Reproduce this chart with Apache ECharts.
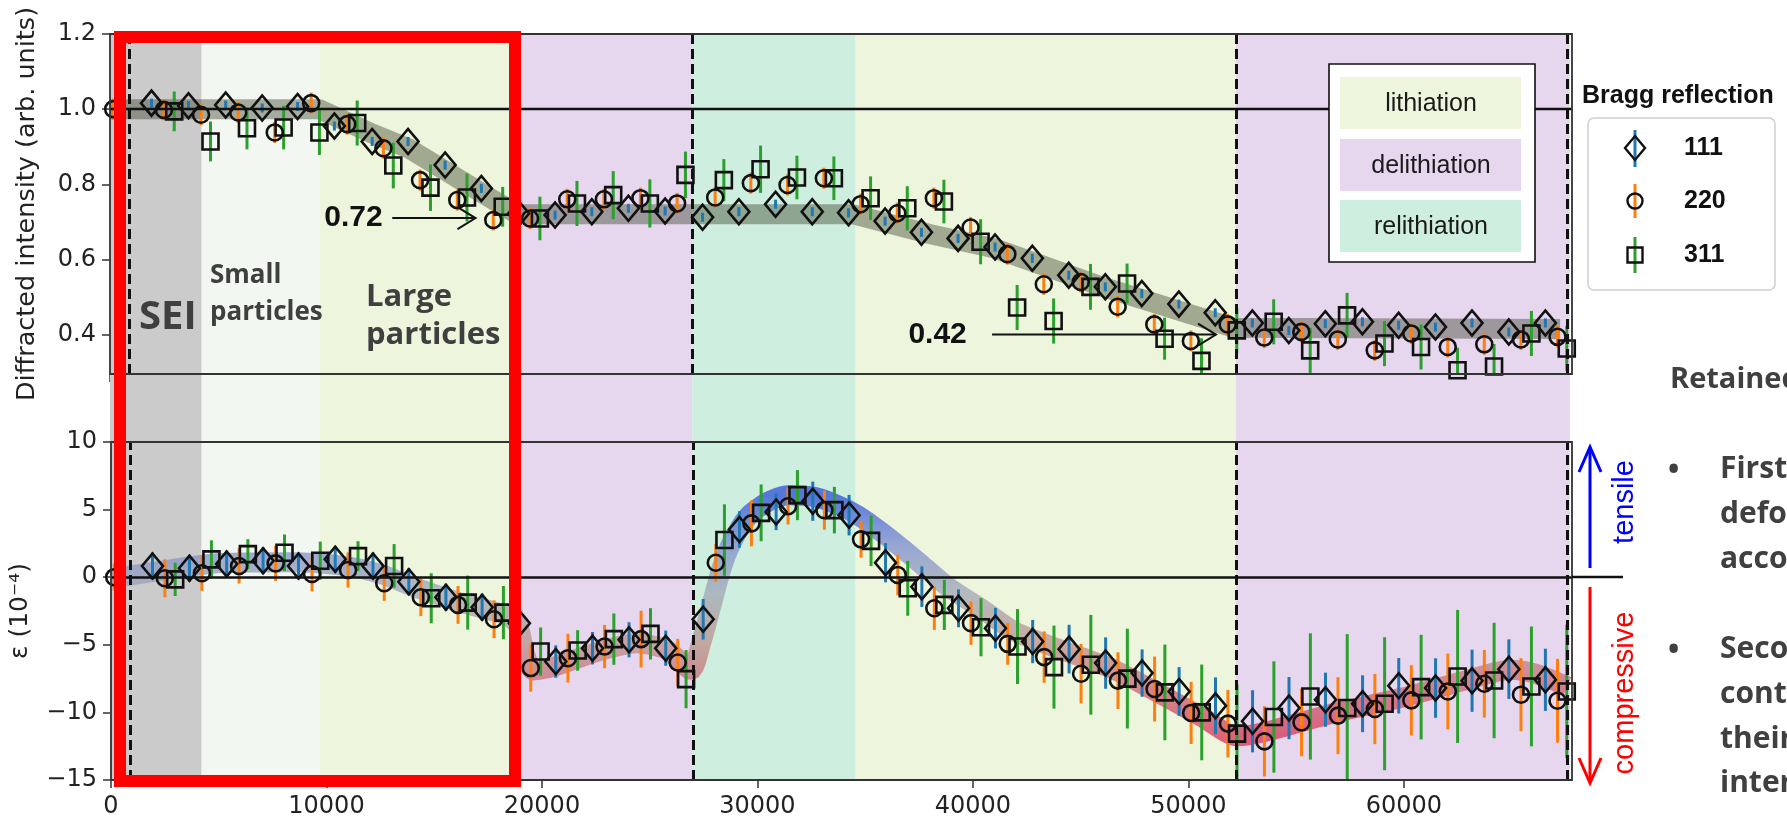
<!DOCTYPE html>
<html><head><meta charset="utf-8">
<script src="https://cdn.jsdelivr.net/npm/echarts@6/dist/echarts.min.js"></script>
<style>html,body{margin:0;padding:0;background:#fff;}#c{width:1787px;height:824px;}</style>
</head><body><div id="c"></div>
<script>
// ---------- axis ticks ----------
const xTicks = [0, 10000, 20000, 30000, 40000, 50000, 60000];
const topYTicks = [0.4, 0.6, 0.8, 1.0, 1.2];
const botYTicks = [-15, -10, -5, 0, 5, 10];

// ---------- Bragg reflection 111 (diamonds) ----------
const x111 = [1925, 3640, 5366, 7058, 8700, 10406, 12158, 13822, 15541, 17222, 18950, 20640, 22344, 24041, 25743, 27480, 29164, 30866, 32567, 34251, 35944, 37630, 39330, 41045, 42772, 44462, 46157, 47850, 49568, 51255, 52975, 54667, 56360, 58081, 59760, 61468, 63162, 64870, 66566];
const top111 = [1.016, 1.009, 1.011, 1.003, 1.007, 0.955, 0.914, 0.914, 0.851, 0.789, 0.722, 0.718, 0.727, 0.736, 0.729, 0.712, 0.727, 0.747, 0.727, 0.724, 0.702, 0.672, 0.656, 0.633, 0.603, 0.558, 0.527, 0.509, 0.481, 0.458, 0.431, 0.411, 0.429, 0.434, 0.425, 0.420, 0.431, 0.407, 0.431];
const bot111 = [0.83, 0.66, 0.97, 1.22, 0.83, 1.32, 0.83, -0.33, -1.48, -2.22, -3.40, -6.24, -5.25, -4.63, -5.25, -3.11, 3.53, 4.83, 5.62, 4.59, 1.07, -0.70, -2.30, -3.77, -4.76, -5.32, -6.35, -7.09, -8.45, -9.51, -10.66, -9.68, -9.06, -9.36, -8.03, -8.20, -7.66, -6.80, -7.59];
const botErr111 = [1.0, 1.0, 1.0, 1.0, 1.0, 1.0, 1.0, 1.0, 1.0, 1.0, 1.1, 1.2, 1.2, 1.3, 1.3, 1.5, 1.35, 1.35, 1.45, 1.5, 1.45, 1.5, 1.4, 1.5, 1.6, 1.8, 1.9, 1.75, 1.8, 2.1, 2.3, 2.3, 2.0, 2.1, 2.05, 2.2, 2.3, 2.2, 2.3];
const topErr111 = 0.012;

// ---------- Bragg reflection 220 (circles) ----------
const x220 = [150, 2500, 4220, 5945, 7640, 9330, 11000, 12680, 14380, 16105, 17775, 19480, 21205, 22905, 24600, 26300, 28065, 29720, 31420, 33106, 34808, 36510, 38208, 39910, 41613, 43305, 45018, 46730, 48430, 50125, 51832, 53527, 55248, 56940, 58652, 60345, 62038, 63732, 65432, 67128];
const top220 = [1.0, 0.998, 0.985, 0.991, 0.938, 1.016, 0.960, 0.896, 0.811, 0.758, 0.705, 0.709, 0.760, 0.760, 0.763, 0.749, 0.765, 0.803, 0.798, 0.816, 0.747, 0.723, 0.763, 0.685, 0.614, 0.534, 0.540, 0.474, 0.427, 0.383, 0.427, 0.392, 0.407, 0.387, 0.358, 0.403, 0.367, 0.374, 0.387, 0.394];
const bot220 = [0, -0.08, 0.29, 0.83, 1.02, 0.24, 0.53, -0.45, -1.48, -2.05, -3.11, -6.72, -5.99, -5.13, -4.58, -6.31, 1.07, 3.98, 5.25, 4.96, 2.80, 0.16, -2.30, -3.40, -4.93, -5.91, -7.14, -7.65, -8.27, -10.04, -10.83, -12.14, -10.74, -10.24, -9.75, -9.11, -8.45, -7.88, -8.69, -9.14];
const botErr220 = [1.0, 1.4, 1.3, 1.3, 1.3, 1.3, 1.3, 1.3, 1.4, 1.4, 1.4, 1.75, 1.8, 1.6, 2.1, 1.75, 1.4, 1.7, 1.35, 1.45, 1.35, 1.5, 1.6, 1.6, 1.55, 1.9, 2.2, 2.1, 2.4, 2.3, 2.5, 2.6, 2.5, 2.85, 2.6, 2.6, 2.8, 2.5, 2.7, 3.1];
const topErr220 = 0.028;

// ---------- Bragg reflection 311 (squares) ----------
const x311 = [2978, 4661, 6352, 8052, 9712, 11463, 13138, 14862, 16554, 18211, 19937, 21655, 23336, 25036, 26687, 28468, 30170, 31856, 33570, 35272, 36974, 38672, 40374, 42068, 43760, 45471, 47166, 48906, 50617, 52254, 53966, 55659, 57369, 59104, 60799, 62492, 64185, 65918, 67557];
const top311 = [0.994, 0.914, 0.949, 0.951, 0.938, 0.963, 0.850, 0.791, 0.765, 0.740, 0.709, 0.749, 0.771, 0.749, 0.825, 0.811, 0.840, 0.818, 0.816, 0.763, 0.736, 0.754, 0.647, 0.472, 0.436, 0.527, 0.536, 0.389, 0.330, 0.411, 0.434, 0.358, 0.451, 0.376, 0.367, 0.305, 0.315, 0.403, 0.363];
const bot311 = [-0.16, 1.32, 1.71, 1.81, 1.22, 1.56, 0.83, -1.56, -1.88, -2.62, -5.50, -5.42, -4.58, -4.19, -7.54, 2.75, 4.76, 6.07, 4.96, 2.69, -0.82, -2.05, -3.70, -5.13, -6.65, -6.48, -7.50, -8.52, -10.0, -11.57, -10.34, -8.82, -9.68, -9.36, -8.13, -7.34, -7.64, -8.08, -8.45];
const botErr311 = [1.23, 1.41, 1.1, 1.35, 1.41, 1.1, 1.62, 1.85, 2.0, 1.97, 1.78, 1.5, 1.9, 1.9, 2.15, 2.64, 2.1, 1.85, 1.72, 1.87, 2.03, 1.85, 2.15, 2.77, 3.07, 3.69, 3.69, 3.54, 3.54, 3.63, 4.12, 4.67, 5.47, 4.92, 3.87, 4.92, 4.27, 4.43, 4.94];
const topErr311 = [0.053, 0.053, 0.056, 0.058, 0.06, 0.06, 0.061, 0.062, 0.064, 0.053, 0.058, 0.06, 0.064, 0.064, 0.062, 0.056, 0.063, 0.058, 0.058, 0.058, 0.059, 0.058, 0.06, 0.06, 0.06, 0.061, 0.053, 0.056, 0.06, 0.06, 0.06, 0.06, 0.06, 0.06, 0.06, 0.06, 0.06, 0.06, 0.06];

// ---------- trend bands ----------
const topTrendX = [0, 9700, 12160, 13860, 17260, 18900, 34470, 38050, 41045, 46040, 52100, 67250];
const topTrendY = [1.0, 1.0, 0.935, 0.895, 0.776, 0.72, 0.72, 0.667, 0.629, 0.527, 0.418, 0.415];
const botTrendX = [0, 2000, 4690, 8280, 10960, 12650, 14000, 16330, 18300, 18900, 19200, 19600, 20600, 22590, 24370, 25800, 26920, 27380, 27850, 28310, 28780, 29550, 30480, 31405, 32640, 33730, 34650, 35735, 37280, 38830, 40370, 41920, 43470, 45010, 46560, 49030, 50580, 52280, 53670, 56760, 59850, 62950, 64950, 66020, 67580];
const botTrendY = [-0.1, 0.4, 1.0, 1.1, 0.8, 0.16, -0.7, -1.93, -2.79, -3.6, -5.6, -6.9, -6.6, -5.5, -4.88, -5.37, -6.85, -4.88, -2.18, 0.53, 2.5, 4.47, 5.57, 6.07, 5.94, 5.33, 4.59, 3.36, 1.39, -0.7, -2.3, -4.0, -5.0, -5.9, -6.85, -8.94, -10.3, -11.77, -11.4, -10.04, -8.94, -7.59, -6.85, -7.1, -8.08];

// ---------- phases ----------
const phaseNames = ['SEI', 'small particles', 'large particles (lithiation)', 'delithiation', 'relithiation', 'lithiation', 'delithiation'];
const phaseStart = [0, 4250, 9710, 19000, 27000, 34580, 52220];
const phaseEnd = [4250, 9710, 19000, 27000, 34580, 52220, 67700];
const phaseBoundaries = [900, 27000, 52220, 67600];

// ---------- annotations ----------
const arrowLabels = ['0.72', '0.42'];
const arrowFrom = [[13090, 0.71], [40905, 0.40]];
const arrowTo = [[16950, 0.71], [51290, 0.40]];
const arrowLabelAt = [[11290, 0.71], [38380, 0.40]];

// ---------- styles ----------
const phaseColors = ['#cbcbcb', '#f3f7f1', '#eef5dd', '#e6d7ef', '#ceeedf', '#eef5dd', '#e6d7ef'];
const C111 = '#1f77b4', C220 = '#ff7f0e', C311 = '#2ca02c';
const X_MAX = 67800;
const TICK = '#333';
const numFont = 'DejaVu Sans';

function zip(xs, ys, es) {
  return xs.map((x, i) => es === undefined ? [x, ys[i]] : [x, ys[i], Array.isArray(es) ? es[i] : es]);
}

function errRender(params, api) {
  const x = api.value(0), y = api.value(1), e = api.value(2);
  const p1 = api.coord([x, y - e]), p2 = api.coord([x, y + e]);
  return { type: 'line', shape: { x1: p1[0], y1: p1[1], x2: p2[0], y2: p2[1] },
    style: { stroke: api.visual('color'), lineWidth: 3 } };
}

function arrowRender(params, api) {
  const a = api.coord([api.value(0), api.value(1)]);
  const b = api.coord([api.value(2), api.value(3)]);
  const t = api.coord([api.value(4), api.value(5)]);
  const hl = 18, hw = 11;
  return { type: 'group', children: [
    { type: 'line', shape: { x1: a[0], y1: a[1], x2: b[0], y2: b[1] }, style: { stroke: '#111', lineWidth: 2 } },
    { type: 'polyline', shape: { points: [[b[0] - hl, b[1] - hw], [b[0], b[1]], [b[0] - hl, b[1] + hw]] }, style: { stroke: '#111', lineWidth: 2, fill: null } },
    { type: 'text', style: { text: arrowLabels[params.dataIndex], x: t[0], y: t[1], fill: '#111',
      fontSize: 30, fontWeight: 'bold', fontFamily: 'Liberation Sans', align: 'center', verticalAlign: 'middle' } }
  ] };
}

function errSeries(xi, yi, data, color) {
  return { type: 'custom', xAxisIndex: xi, yAxisIndex: yi, data: data, renderItem: errRender,
    itemStyle: { color: color }, clip: true, silent: true, z: 4 };
}
function markSeries(xi, yi, data, symbol, size) {
  return { type: 'scatter', xAxisIndex: xi, yAxisIndex: yi, data: data, symbol: symbol, symbolSize: size,
    itemStyle: { color: 'rgba(0,0,0,0)', borderColor: '#111', borderWidth: 2.6, opacity: 1 },
    emphasis: { disabled: true }, silent: true, clip: true, z: 5 };
}

const vlines = phaseBoundaries.map(v => ({ xAxis: v }));
const dashStyle = { color: '#111', width: 3, type: [10, 5] };

const axisX = (gi, showLabel) => ({
  gridIndex: gi, type: 'value', min: 0, max: X_MAX,
  axisLine: { show: false, onZero: false },
  axisTick: { show: true, customValues: xTicks, length: 8, lineStyle: { color: TICK, width: 1.5 } },
  axisLabel: { show: showLabel, customValues: xTicks, formatter: v => String(v), fontSize: 24, fontFamily: numFont, color: '#222', margin: 15 },
  splitLine: { show: false }
});

const option = {
  animation: false,
  backgroundColor: '#fff',
  grid: [
    { left: 110, right: 215, top: 34, bottom: 44 },
    { left: 110, right: 215, top: 34, height: 340, show: true, borderColor: '#333', borderWidth: 1.8, backgroundColor: 'transparent', z: 10 },
    { left: 110, right: 215, top: 442, height: 338, show: true, borderColor: '#333', borderWidth: 1.8, backgroundColor: 'transparent', z: 10 }
  ],
  xAxis: [
    { gridIndex: 0, type: 'value', min: 0, max: X_MAX, show: false },
    axisX(1, false),
    axisX(2, true)
  ],
  yAxis: [
    { gridIndex: 0, type: 'value', min: 0, max: 1, show: false },
    { gridIndex: 1, type: 'value', min: 0.295, max: 1.2,
      axisLine: { show: false, onZero: false },
      axisTick: { show: true, customValues: topYTicks, length: 8, lineStyle: { color: TICK, width: 1.5 } },
      axisLabel: { customValues: topYTicks, formatter: v => Number(v).toFixed(1), fontSize: 24, fontFamily: numFont, color: '#222', margin: 14 },
      splitLine: { show: false },
      name: 'Diffracted intensity (arb. units)', nameLocation: 'middle', nameGap: 70,
      nameTextStyle: { fontSize: 25.5, fontFamily: numFont, color: '#222' } },
    { gridIndex: 2, type: 'value', min: -15, max: 10, interval: 5,
      axisLine: { show: false, onZero: false },
      axisTick: { show: true, customValues: botYTicks, length: 8, lineStyle: { color: TICK, width: 1.5 } },
      axisLabel: { customValues: botYTicks, formatter: v => String(v).replace('-', '\u2212'), fontSize: 24, fontFamily: numFont, color: '#222', margin: 14 },
      splitLine: { show: false },
      name: '\u03b5 (10\u207b\u2074)', nameLocation: 'middle', nameGap: 78,
      nameTextStyle: { fontSize: 25, fontFamily: numFont, color: '#222' } }
  ],
  visualMap: [{
    type: 'continuous', show: false, seriesIndex: 2, dimension: 1, min: -12, max: 6,
    inRange: { color: ['#d83a5c', '#cd6676', '#bd958f', '#a3a9b6', '#7d90d0', '#3456d8'] }
  }],
  series: [
    { type: 'line', xAxisIndex: 0, yAxisIndex: 0, data: [], silent: true, z: 1,
      markArea: { silent: true, data: phaseStart.map((s, i) => [
        { xAxis: s, name: phaseNames[i], itemStyle: { color: phaseColors[i], opacity: 1 } },
        { xAxis: phaseEnd[i] }]), label: { show: false } } },
    { type: 'line', xAxisIndex: 1, yAxisIndex: 1, data: zip(topTrendX, topTrendY), showSymbol: false, symbol: 'none',
      lineStyle: { color: 'rgba(55,65,40,0.42)', width: 20, join: 'round', cap: 'butt' }, silent: true, z: 2 },
    { type: 'line', xAxisIndex: 2, yAxisIndex: 2, data: zip(botTrendX, botTrendY), showSymbol: false, symbol: 'none', smooth: 0.25,
      lineStyle: { width: 20, opacity: 0.78, join: 'round' }, silent: true, z: 2 },
    { type: 'line', xAxisIndex: 1, yAxisIndex: 1, data: [], silent: true, z: 3,
      markLine: { silent: true, symbol: ['none', 'none'], label: { show: false },
        data: [{ yAxis: 1.0, lineStyle: { color: '#111', width: 2.4, type: 'solid' } }].concat(vlines.map(v => Object.assign({ lineStyle: dashStyle }, v))) } },
    { type: 'line', xAxisIndex: 2, yAxisIndex: 2, data: [], silent: true, z: 3,
      markLine: { silent: true, symbol: ['none', 'none'], label: { show: false },
        data: [{ yAxis: 0, lineStyle: { color: '#111', width: 2.6, type: 'solid' } }].concat(vlines.map(v => Object.assign({ lineStyle: dashStyle }, v))) } },
    errSeries(1, 1, zip(x111, top111, topErr111), C111),
    errSeries(1, 1, zip(x220, top220, topErr220), C220),
    errSeries(1, 1, zip(x311, top311, topErr311), C311),
    markSeries(1, 1, zip(x111, top111), 'diamond', [21, 25]),
    markSeries(1, 1, zip(x220, top220), 'circle', 16),
    markSeries(1, 1, zip(x311, top311), 'rect', 16),
    errSeries(2, 2, zip(x111, bot111, botErr111), C111),
    errSeries(2, 2, zip(x220, bot220, botErr220), C220),
    errSeries(2, 2, zip(x311, bot311, botErr311), C311),
    markSeries(2, 2, zip(x111, bot111), 'diamond', [21, 25]),
    markSeries(2, 2, zip(x220, bot220), 'circle', 16),
    markSeries(2, 2, zip(x311, bot311), 'rect', 16),
    { type: 'custom', xAxisIndex: 1, yAxisIndex: 1, silent: true, z: 6, clip: false,
      data: arrowFrom.map((f, i) => [f[0], f[1], arrowTo[i][0], arrowTo[i][1], arrowLabelAt[i][0], arrowLabelAt[i][1]]),
      renderItem: arrowRender }
  ],
  graphic: []
};

// ---------- overlay annotations ----------
const G = [];
const Z = 100;
G.push({ type: 'rect', z: Z, shape: { x: 1329, y: 64, width: 206, height: 198 }, style: { fill: '#fff', stroke: '#111', lineWidth: 1.6 } });
const legPhase = [['lithiation', 5, 77], ['delithiation', 3, 139], ['relithiation', 4, 200]];
legPhase.forEach(([t, ci, y]) => {
  G.push({ type: 'rect', z: Z + 1, shape: { x: 1340, y: y, width: 181, height: 52 }, style: { fill: phaseColors[ci] } });
  G.push({ type: 'text', z: Z + 2, style: { text: t, x: 1431, y: y + 27, align: 'center', verticalAlign: 'middle', fontSize: 25, fontFamily: 'Liberation Sans', fill: '#1a1a1a' } });
});
G.push({ type: 'text', z: Z, style: { text: 'Bragg reflection', x: 1582, y: 96, align: 'left', verticalAlign: 'middle', fontSize: 25, fontWeight: 'bold', fontFamily: 'Liberation Sans', fill: '#111' } });
G.push({ type: 'rect', z: Z, shape: { x: 1588, y: 118, width: 187, height: 172, r: 6 }, style: { fill: '#fff', stroke: '#cfcfcf', lineWidth: 1.5 } });
const lx = 1635;
G.push({ type: 'line', z: Z + 1, shape: { x1: lx, y1: 130, x2: lx, y2: 167 }, style: { stroke: C111, lineWidth: 3 } });
G.push({ type: 'polygon', z: Z + 2, shape: { points: [[lx, 136], [lx + 10, 148], [lx, 160], [lx - 10, 148]] }, style: { fill: null, stroke: '#111', lineWidth: 2.4 } });
G.push({ type: 'line', z: Z + 1, shape: { x1: lx, y1: 184, x2: lx, y2: 218 }, style: { stroke: C220, lineWidth: 3 } });
G.push({ type: 'circle', z: Z + 2, shape: { cx: lx, cy: 201, r: 7.5 }, style: { fill: null, stroke: '#111', lineWidth: 2.4 } });
G.push({ type: 'line', z: Z + 1, shape: { x1: lx, y1: 237, x2: lx, y2: 273 }, style: { stroke: C311, lineWidth: 3 } });
G.push({ type: 'rect', z: Z + 2, shape: { x: lx - 7.5, y: 247.5, width: 15, height: 15 }, style: { fill: null, stroke: '#111', lineWidth: 2.4 } });
[['111', 148], ['220', 201], ['311', 255]].forEach(([t, y]) => {
  G.push({ type: 'text', z: Z + 2, style: { text: t, x: 1684, y: y, align: 'left', verticalAlign: 'middle', fontSize: 25, fontWeight: 'bold', fontFamily: 'Liberation Sans', fill: '#111' } });
});
const regFont = 'Open Sans';
G.push({ type: 'text', z: Z, style: { text: 'SEI', x: 139, y: 318, align: 'left', verticalAlign: 'middle', fontSize: 40, fontWeight: 'bold', fontFamily: regFont, fill: '#3f3f3f' } });
G.push({ type: 'text', z: Z, style: { text: 'Small', x: 210, y: 276, align: 'left', verticalAlign: 'middle', fontSize: 26, fontWeight: 'bold', fontFamily: regFont, fill: '#3f3f3f' } });
G.push({ type: 'text', z: Z, style: { text: 'particles', x: 210, y: 313, align: 'left', verticalAlign: 'middle', fontSize: 26, fontWeight: 'bold', fontFamily: regFont, fill: '#3f3f3f' } });
G.push({ type: 'text', z: Z, style: { text: 'Large', x: 366, y: 297, align: 'left', verticalAlign: 'middle', fontSize: 31, fontWeight: 'bold', fontFamily: regFont, fill: '#3f3f3f' } });
G.push({ type: 'text', z: Z, style: { text: 'particles', x: 366, y: 335, align: 'left', verticalAlign: 'middle', fontSize: 31, fontWeight: 'bold', fontFamily: regFont, fill: '#3f3f3f' } });
G.push({ type: 'rect', z: Z + 50, shape: { x: 120, y: 37, width: 395, height: 744 }, style: { fill: null, stroke: '#ff0000', lineWidth: 12 } });
G.push({ type: 'line', z: Z, shape: { x1: 1572, y1: 577, x2: 1623, y2: 577 }, style: { stroke: '#111', lineWidth: 2.6 } });
G.push({ type: 'line', z: Z, shape: { x1: 1590, y1: 568, x2: 1590, y2: 448 }, style: { stroke: '#0000ff', lineWidth: 3 } });
G.push({ type: 'polyline', z: Z, shape: { points: [[1579, 472], [1590, 447], [1601, 472]] }, style: { stroke: '#0000ff', lineWidth: 3, fill: null } });
G.push({ type: 'line', z: Z, shape: { x1: 1590, y1: 587, x2: 1590, y2: 782 }, style: { stroke: '#ff0000', lineWidth: 3 } });
G.push({ type: 'polyline', z: Z, shape: { points: [[1579, 758], [1590, 783], [1601, 758]] }, style: { stroke: '#ff0000', lineWidth: 3, fill: null } });
G.push({ type: 'text', z: Z, x: 1625, y: 502, rotation: Math.PI / 2, style: { text: 'tensile', x: 0, y: 0, align: 'center', verticalAlign: 'middle', fontSize: 29, fontFamily: 'Liberation Sans', fill: '#0000ff' } });
G.push({ type: 'text', z: Z, x: 1625, y: 693, rotation: Math.PI / 2, style: { text: 'compressive', x: 0, y: 0, align: 'center', verticalAlign: 'middle', fontSize: 29, fontFamily: 'Liberation Sans', fill: '#ff0000' } });
const noteFill = '#404040';
G.push({ type: 'text', z: Z, style: { text: 'Retained strain', x: 1670, y: 380, align: 'left', verticalAlign: 'middle', fontSize: 29, fontWeight: 'bold', fontFamily: regFont, fill: noteFill } });
G.push({ type: 'text', z: Z, style: { text: '\u2022', x: 1668, y: 470, align: 'left', verticalAlign: 'middle', fontSize: 30, fontWeight: 'bold', fontFamily: regFont, fill: noteFill } });
G.push({ type: 'text', z: Z, style: { text: '\u2022', x: 1668, y: 650, align: 'left', verticalAlign: 'middle', fontSize: 30, fontWeight: 'bold', fontFamily: regFont, fill: noteFill } });
[['First cycle', 469], ['deformation', 514], ['accommodated', 559], ['Second cycle', 649], ['contraction', 694], ['their', 739], ['interior', 783]].forEach(([t, y]) => {
  G.push({ type: 'text', z: Z, style: { text: t, x: 1720, y: y, align: 'left', verticalAlign: 'middle', fontSize: 30, fontWeight: 'bold', fontFamily: regFont, fill: noteFill } });
});
option.graphic = G;

const chart = echarts.init(document.getElementById('c'), null, { renderer: 'canvas' });
chart.setOption(option);
</script></body></html>
